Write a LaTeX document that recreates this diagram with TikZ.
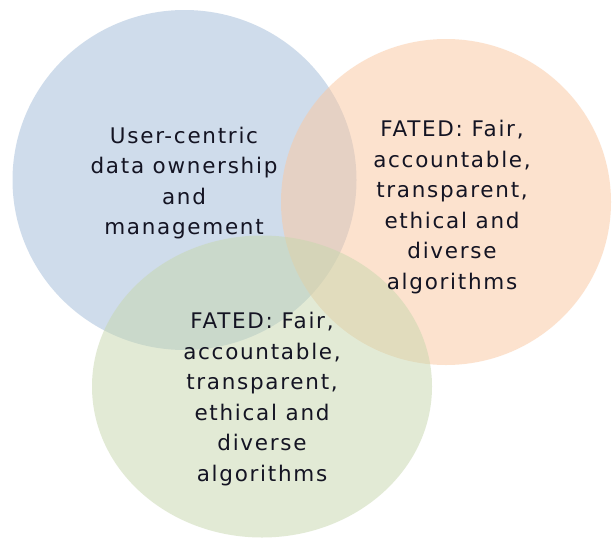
\documentclass[tikz,border=0pt]{standalone}
\usepackage{fontspec}
\setmainfont{DejaVu Sans}[LetterSpace=8]
\definecolor{cblue}{RGB}{161,187,217}
\definecolor{corange}{RGB}{251,199,159}
\definecolor{cgreen}{RGB}{199,215,173}
\definecolor{ctext}{RGB}{20,20,35}
\begin{document}
\begin{tikzpicture}[x=1pt,y=-1pt,
  setshape/.style={fill opacity=0.5, draw=none},
  lbl/.style={align=center, font=\fontsize{21.5}{30.5}\selectfont, text=ctext, inner sep=0pt}]
\useasboundingbox (0,0) rectangle (612,538);
\fill[white] (0,0) rectangle (612,538);
\path[setshape, fill=cblue] (184.5,180) ellipse [x radius=172, y radius=170];
\path[setshape, fill=corange] (446,202) ellipse [x radius=165, y radius=163];
\path[setshape, fill=cgreen] (262,386.5) ellipse [x radius=170, y radius=151];
\node[lbl] (blue) at (184,183) {User-centric\\data ownership\\and\\management};
\node[lbl] (orange) at (452,207) {FATED: Fair,\\accountable,\\transparent,\\ethical and\\diverse\\algorithms};
\node[lbl] (green) at (262,399) {FATED: Fair,\\accountable,\\transparent,\\ethical and\\diverse\\algorithms};
\end{tikzpicture}
\end{document}
